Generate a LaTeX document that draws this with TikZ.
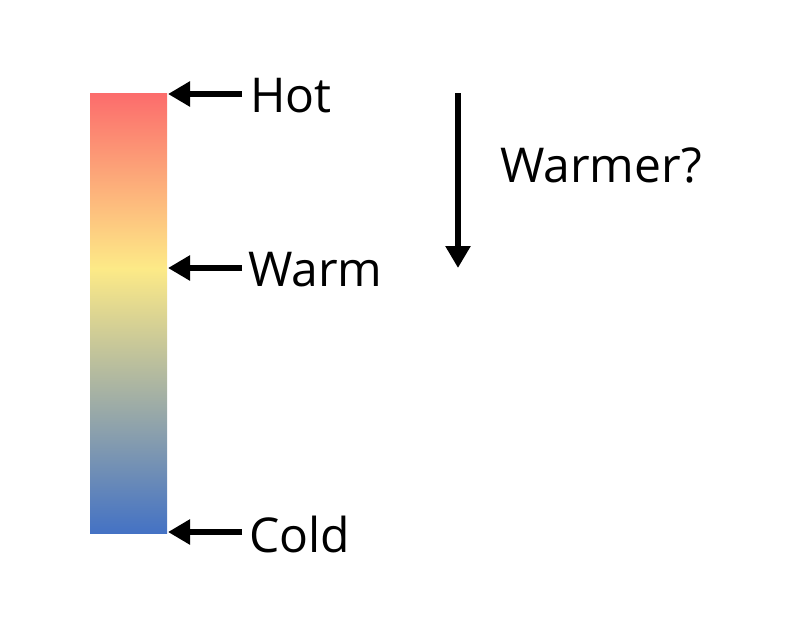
\documentclass[tikz,border=0pt]{standalone}
\usepackage{fontspec}
\setmainfont{Open Sans}
\usetikzlibrary{arrows.meta}
\definecolor{hotc}{RGB}{252,108,108}
\definecolor{orangec}{RGB}{253,172,120}
\definecolor{warmc}{RGB}{253,234,135}
\definecolor{midc}{RGB}{158,166,140}
\definecolor{coldc}{RGB}{68,114,196}
\tikzset{
  lbl/.style={font=\fontsize{48}{58}\selectfont, inner sep=0pt, anchor=base west},
  pointer/.style={line width=6pt, -{Triangle[length=22pt,width=24pt]}}
}
\begin{document}
\begin{tikzpicture}[x=1pt,y=-1pt]
\useasboundingbox (0,0) rectangle (800,626);
\shade[top color=hotc, middle color=orangec, bottom color=warmc] (90,93) rectangle (167,268.5);
\shade[top color=warmc, middle color=midc, bottom color=coldc] (90,268) rectangle (167,533);
\coordinate (hotpt) at (168,94);
\coordinate (warmpt) at (168,268);
\coordinate (coldpt) at (168,532);
\node[lbl] (hot) at (250,112) {Hot};
\node[lbl] (warm) at (248,286) {Warm};
\node[lbl] (cold) at (249,552) {Cold};
\node[lbl] (warmer) at (500,182) {Warmer?};
\coordinate (hotstart) at (242,94);
\coordinate (warmstart) at (242,268);
\coordinate (coldstart) at (242,532);
\draw[pointer] (hotstart) -- (hotpt);
\draw[pointer] (warmstart) -- (warmpt);
\draw[pointer] (coldstart) -- (coldpt);
\coordinate (dtop) at (458,93);
\coordinate (dbot) at (458,268);
\draw[pointer] (dtop) -- (dbot);
\end{tikzpicture}
\end{document}
